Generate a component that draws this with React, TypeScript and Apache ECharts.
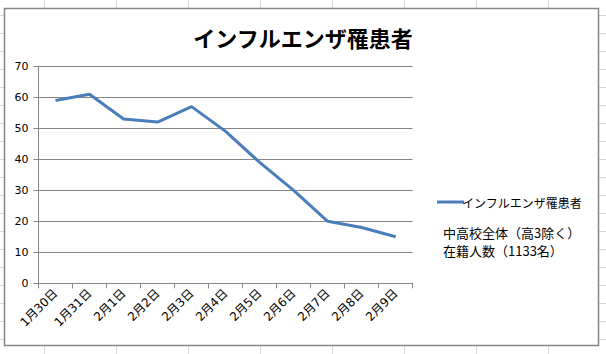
import React, { useEffect, useRef } from "react";
import * as echarts from "echarts";

const categories = ["1月30日", "1月31日", "2月1日", "2月2日", "2月3日", "2月4日", "2月5日", "2月6日", "2月7日", "2月8日", "2月9日"];
const patients = [59, 61, 53, 52, 57, 49, 39, 30, 20, 18, 15];
const seriesName = "インフルエンザ罹患者";
const titleText = "インフルエンザ罹患者";
const noteLines = ["中高校全体（高3除く）", "在籍人数（1133名）"];

const W = 606;
const H = 354;

export default function App() {
  const ref = useRef<HTMLDivElement>(null);

  useEffect(() => {
    if (!ref.current) return;
    const chart = echarts.init(ref.current, undefined, { renderer: "svg" });

    const bg: any[] = [];
    for (let k = 0; k < 19; k++) {
      const y = 15.5 + 18 * k;
      bg.push({ type: "line", z: -20, silent: true, shape: { x1: 0, y1: y, x2: W, y2: y }, style: { stroke: "#d6d6d6", lineWidth: 1 } });
    }
    for (let k = 0; k < 8; k++) {
      const x = 44.5 + 72 * k;
      bg.push({ type: "line", z: -20, silent: true, shape: { x1: x, y1: 0, x2: x, y2: H }, style: { stroke: "#d6d6d6", lineWidth: 1 } });
    }
    bg.push({
      type: "rect",
      z: -10,
      silent: true,
      shape: { x: 4.5, y: 8.5, width: 594, height: 337 },
      style: { fill: "#ffffff", stroke: "#868686", lineWidth: 1.5 },
    });
    noteLines.forEach((t, i) => {
      bg.push({
        type: "text",
        z: 10,
        x: 443,
        y: 232 + 18 * i,
        style: {
          text: t,
          fill: "#000000",
          font: "13px 'Noto Sans CJK JP'",
          textVerticalAlign: "middle",
          verticalAlign: "middle",
        },
      });
    });

    chart.setOption({
      animation: false,
      backgroundColor: "#ffffff",
      title: {
        text: titleText,
        left: 298,
        top: 21,
        textAlign: "center",
        textStyle: {
          fontFamily: "'Noto Sans CJK JP'",
          fontWeight: "bold",
          fontSize: 22,
          color: "#000000",
        },
      },
      legend: {
        data: [seriesName],
        left: 432,
        top: 191,
        icon: "rect",
        itemWidth: 27,
        itemHeight: 3,
        itemGap: 0,
        textStyle: {
          fontFamily: "'Noto Sans CJK JP'",
          fontSize: 12,
          color: "#000000",
          padding: [0, 0, 0, -7],
        },
      },
      grid: {
        left: 38.5,
        right: 193.3,
        top: 66.3,
        bottom: 70.7,
        containLabel: false,
      },
      xAxis: {
        type: "category",
        data: categories,
        boundaryGap: true,
        axisLine: { show: true, lineStyle: { color: "#868686", width: 1 } },
        axisTick: { show: true, length: 5, alignWithLabel: false, lineStyle: { color: "#868686" } },
        axisLabel: {
          rotate: 45,
          interval: 0,
          margin: 8,
          fontSize: 12,
          color: "#000000",
          fontFamily: "'DejaVu Sans', 'Noto Sans CJK JP'",
        },
        splitLine: { show: false },
      },
      yAxis: {
        type: "value",
        min: 0,
        max: 70,
        interval: 10,
        axisLine: { show: true, lineStyle: { color: "#868686", width: 1 } },
        axisTick: { show: true, length: 5, lineStyle: { color: "#868686" } },
        axisLabel: {
          margin: 10,
          fontSize: 11,
          color: "#000000",
          fontFamily: "'DejaVu Sans'",
        },
        splitLine: { show: true, lineStyle: { color: "#868686", width: 1 } },
      },
      series: [
        {
          name: seriesName,
          type: "line",
          data: patients,
          symbol: "none",
          smooth: false,
          lineStyle: { color: "#4a7ebb", width: 3 },
          itemStyle: { color: "#4a7ebb" },
        },
      ],
      graphic: { elements: bg },
    });

    return () => chart.dispose();
  }, []);

  return <div ref={ref} style={{ position: "absolute", left: 0, top: 0, width: W, height: H }} />;
}
